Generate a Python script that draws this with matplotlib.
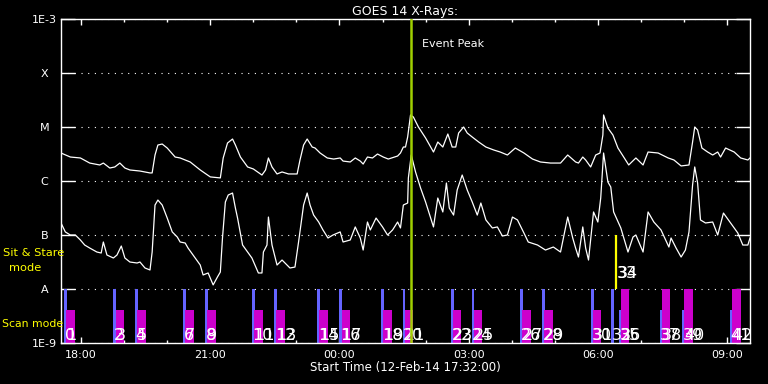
import datetime as dt

import matplotlib
matplotlib.use("Agg")
import matplotlib.dates as mdates
import matplotlib.pyplot as plt
from matplotlib.ticker import FixedLocator, NullLocator

start = dt.datetime(2014, 2, 12, 17, 32)
span_hours = 16

# GOES 14 long channel (1-8 A): minutes after start, flux in W/m^2
long_min = [0, 13, 27, 40, 54, 59, 68, 75, 82, 89, 96, 110, 124, 127, 131, 135,
            141, 148, 159, 166, 173, 180, 194, 208, 222, 226, 232, 239, 243, 250,
            260, 268, 280, 285, 289, 294, 301, 308, 317, 329, 333, 338, 343, 350,
            354, 361, 371, 380, 389, 393, 403, 410, 417, 421, 427, 434, 441, 449,
            456, 469, 473, 477, 480, 483, 487, 491, 498, 508, 519, 525, 532, 539,
            545, 550, 554, 561, 566, 573, 582, 592, 603, 612, 622, 633, 645, 657,
            668, 682, 696, 706, 717, 721, 727, 731, 738, 745, 751, 755, 756, 762,
            769, 776, 784, 791, 801, 811, 818, 832, 846, 854, 864, 875, 880, 883,
            887, 893, 901, 908, 915, 919, 926, 938, 947, 957, 960]
long_flux = [3.3e-6, 2.78e-6, 2.67e-6, 2.15e-6, 1.98e-6, 2.15e-6, 1.74e-6, 1.82e-6,
             2.15e-6, 1.74e-6, 1.6e-6, 1.53e-6, 1.41e-6, 1.41e-6, 3.03e-6, 4.64e-6,
             4.84e-6, 4.08e-6, 2.78e-6, 2.67e-6, 2.45e-6, 2.25e-6, 1.6e-6, 1.19e-6,
             1.14e-6, 2.67e-6, 5.05e-6, 5.99e-6, 4.64e-6, 2.78e-6, 1.82e-6, 1.67e-6,
             1.29e-6, 1.6e-6, 2.67e-6, 1.82e-6, 1.35e-6, 1.47e-6, 1.35e-6, 1.35e-6,
             2.45e-6, 4.64e-6, 5.99e-6, 4.26e-6, 4.08e-6, 3.3e-6, 2.67e-6, 2.55e-6,
             2.67e-6, 2.34e-6, 2.25e-6, 2.67e-6, 2.34e-6, 2.06e-6, 2.78e-6, 2.67e-6,
             3.16e-6, 2.78e-6, 2.55e-6, 2.9e-6, 3.3e-6, 4.26e-6, 4.26e-6, 6.52e-6,
             1.67e-5, 1.53e-5, 1.0e-5, 6.25e-6, 3.44e-6, 5.27e-6, 4.26e-6, 7.42e-6,
             4.26e-6, 4.26e-6, 7.74e-6, 1.0e-5, 7.74e-6, 6.52e-6, 5.27e-6, 4.26e-6,
             3.75e-6, 3.44e-6, 3.03e-6, 4.08e-6, 3.3e-6, 2.55e-6, 2.25e-6, 2.15e-6,
             2.15e-6, 3.03e-6, 2.25e-6, 2.15e-6, 2.78e-6, 2.45e-6, 1.82e-6, 3.03e-6,
             3.3e-6, 7.11e-6, 1.67e-5, 9.58e-6, 7.11e-6, 4.08e-6, 2.78e-6, 1.98e-6,
             2.67e-6, 1.98e-6, 3.44e-6, 3.3e-6, 2.67e-6, 2.45e-6, 1.9e-6, 1.98e-6,
             5.27e-6, 1.0e-5, 8.8e-6, 4.08e-6, 3.44e-6, 3.03e-6, 3.44e-6, 2.78e-6,
             4.08e-6, 3.44e-6, 2.67e-6, 2.45e-6, 2.67e-6]

# GOES 14 short channel (0.5-4 A)
short_min = [0, 6, 13, 20, 27, 33, 40, 50, 56, 59, 64, 73, 78, 84, 89, 96, 106,
             110, 117, 124, 127, 131, 135, 141, 148, 155, 162, 166, 173, 177, 184,
             194, 198, 205, 212, 218, 222, 225, 229, 233, 239, 243, 246, 253, 260,
             266, 275, 280, 282, 287, 289, 294, 301, 308, 315, 319, 326, 331, 338,
             343, 347, 352, 359, 365, 372, 379, 389, 393, 403, 410, 417, 421, 427,
             431, 439, 448, 455, 462, 469, 473, 477, 483, 484, 488, 494, 501, 508,
             515, 519, 525, 532, 537, 541, 547, 552, 559, 566, 573, 580, 585, 592,
             601, 608, 615, 622, 629, 636, 645, 651, 664, 675, 686, 696, 706, 713,
             717, 721, 727, 731, 735, 742, 748, 752, 756, 762, 766, 770, 780, 790,
             797, 801, 811, 818, 826, 836, 847, 850, 857, 864, 870, 875, 880, 883,
             887, 891, 898, 908, 915, 923, 933, 943, 950, 957, 960]
short_flux = [1.67e-7, 1.14e-7, 1.0e-7, 1.0e-7, 8.08e-8, 6.52e-8, 5.74e-8, 4.84e-8,
              4.64e-8, 7.42e-8, 4.26e-8, 3.75e-8, 4.26e-8, 6.25e-8, 3.75e-8, 3.16e-8,
              3.03e-8, 3.16e-8, 2.45e-8, 2.25e-8, 4.84e-8, 3.59e-7, 4.44e-7, 3.59e-7,
              2.06e-7, 1.14e-7, 9.18e-8, 7.42e-8, 7.11e-8, 5.74e-8, 4.26e-8, 2.78e-8,
              1.82e-8, 1.98e-8, 1.19e-8, 1.67e-8, 2.06e-8, 8.8e-8, 4.08e-7, 5.5e-7,
              5.99e-7, 3.16e-7, 2.06e-7, 6.52e-8, 4.84e-8, 3.75e-8, 1.98e-8, 1.98e-8,
              4.84e-8, 6.52e-8, 2.15e-7, 6.52e-8, 2.78e-8, 3.44e-8, 2.78e-8, 2.45e-8,
              2.55e-8, 7.42e-8, 3.59e-7, 5.99e-7, 3.59e-7, 2.34e-7, 1.74e-7, 1.24e-7,
              8.8e-8, 1.0e-7, 1.14e-7, 7.42e-8, 8.08e-8, 1.41e-7, 8.8e-8, 5.27e-8,
              1.74e-7, 1.24e-7, 2.06e-7, 1.41e-7, 1.0e-7, 1.24e-7, 1.74e-7, 1.35e-7,
              3.59e-7, 3.91e-7, 1.14e-6, 3.03e-6, 1.47e-6, 7.42e-7, 4.08e-7, 2.06e-7,
              1.41e-7, 4.84e-7, 2.67e-7, 9.18e-7, 3.16e-7, 2.34e-7, 6.81e-7, 1.29e-6,
              6.81e-7, 4.08e-7, 2.34e-7, 3.91e-7, 1.9e-7, 1.35e-7, 1.41e-7, 9.58e-8,
              1.0e-7, 2.15e-7, 1.9e-7, 1.09e-7, 7.42e-8, 6.52e-8, 5.27e-8, 5.99e-8,
              4.84e-8, 2.15e-7, 8.8e-8, 5.74e-8, 3.91e-8, 1.41e-7, 5.74e-8, 3.44e-8,
              2.67e-7, 1.74e-7, 4.84e-7, 3.3e-6, 9.58e-7, 7.74e-7, 2.67e-7, 1.35e-7,
              4.84e-8, 9.18e-8, 1.0e-7, 4.84e-8, 2.67e-7, 1.74e-7, 1.24e-7, 5.99e-8,
              8.8e-8, 5.74e-8, 3.91e-8, 5.27e-8, 1.14e-7, 8.43e-7, 1.82e-6, 9.18e-7,
              1.9e-7, 1.67e-7, 1.74e-7, 1.0e-7, 2.55e-7, 1.67e-7, 1.09e-7, 6.52e-8,
              6.52e-8, 8.8e-8]

# observations: start (minutes after start), bar tops, numbers written under them
obs_min = [4, 73, 103, 170, 201, 266, 297, 357, 388, 446, 476, 543, 572, 640,
           670, 738, 767, 777, 834, 865, 932]
obs_labels = [["0", "1"], ["2", "3"], ["4", "5"], ["6", "7"], ["8", "9"],
              ["10", "11"], ["12", "13"], ["14", "15"], ["16", "17"], ["18", "19"],
              ["20", "21"], ["22", "23"], ["24", "25"], ["26", "27"], ["28", "29"],
              ["30", "31"], ["32"], ["35", "36"], ["37", "38"], ["39", "40"],
              ["41", "42"]]
blue_top = [1e-8] * 17 + [4.1e-9] * 4
magenta_top = [4.1e-9] * 16 + [None] + [1e-8] * 4

peak_min = 488
mark_min = 773
mark_labels = ["33", "34"]

ytick_vals = [1e-9, 1e-8, 1e-7, 1e-6, 1e-5, 1e-4, 1e-3]
ytick_names = ["1E-9", "A", "B", "C", "M", "X", "1E-3"]

num_font = ["Liberation Sans Narrow", "DejaVu Sans"]


def to_time(minutes):
    return [start + dt.timedelta(minutes=m) for m in minutes]


fig = plt.figure(figsize=(7.68, 3.84), dpi=100, facecolor="black")
ax = fig.add_axes([61 / 768, 41 / 384, 689 / 768, 324 / 384], facecolor="black")

ax.set_yscale("log")
ax.set_ylim(1e-9, 1e-3)
ax.set_xlim(start, start + dt.timedelta(hours=span_hours))

ax.plot(to_time(long_min), long_flux, color="white", lw=0.9, zorder=3)
ax.plot(to_time(short_min), short_flux, color="white", lw=0.9, zorder=3)

blue_w = 4 / 1440
mag_w = 12 / 1440
for m, bt, mt, labs in zip(obs_min, blue_top, magenta_top, obs_labels):
    x0 = mdates.date2num(start + dt.timedelta(minutes=m))
    ax.bar(x0, bt - 1e-9, bottom=1e-9, width=blue_w, align="edge",
           color="#6464ff", zorder=2)
    if mt is not None:
        ax.bar(x0 + 3 / 1440, mt - 1e-9, bottom=1e-9, width=mag_w, align="edge",
               color="#cc00cc", zorder=2)
    for k, lab in enumerate(labs):
        ax.text(x0 + (1 + 2 * k) / 1440, 1.14e-9, lab, color="white",
                fontsize=11.5, family=num_font,
                ha="left", va="baseline", zorder=5)

t_peak = start + dt.timedelta(minutes=peak_min)
ax.axvline(t_peak, color="#a0d000", lw=1.8, zorder=6)
ax.text(start + dt.timedelta(minutes=peak_min + 15), 3.0e-4, "Event Peak",
        color="white", fontsize=8, ha="left", va="baseline")

t_mark = start + dt.timedelta(minutes=mark_min)
ax.vlines(t_mark, 1e-8, 1e-7, color="#ffff00", lw=1.6, zorder=6)
for k, lab in enumerate(mark_labels):
    ax.text(mdates.date2num(t_mark) + (1 + 2 * k) / 1440, 1.6e-8, lab,
            color="white", fontsize=11.5, family=num_font,
            ha="left", va="baseline", zorder=5)

# axes styling
for s in ax.spines.values():
    s.set_color("white")
    s.set_linewidth(1.0)

ax.yaxis.set_major_locator(FixedLocator(ytick_vals))
ax.yaxis.set_minor_locator(NullLocator())
ax.set_yticklabels(ytick_names)
ax.tick_params(axis="y", which="major", direction="in", length=10, width=1,
               colors="white", labelsize=8, pad=12, left=True, right=True)
for lbl in ax.get_yticklabels():
    lbl.set_horizontalalignment("center")
ax.yaxis.grid(True, color="white", linestyle=(0, (1, 5)), linewidth=0.8)

ax.xaxis.set_major_locator(mdates.HourLocator(byhour=range(0, 24, 3)))
ax.xaxis.set_minor_locator(mdates.HourLocator())
ax.xaxis.set_major_formatter(mdates.DateFormatter("%H:%M"))
ax.tick_params(axis="x", which="major", direction="in", length=4.5, width=1,
               colors="white", labelsize=8, pad=5, top=True)
ax.tick_params(axis="x", which="minor", direction="in", length=2.5, width=1,
               colors="white", top=True)

ax.set_title("GOES 14 X-Rays:", color="white", fontsize=9, pad=3)
ax.set_xlabel("Start Time (12-Feb-14 17:32:00)", color="white", fontsize=8.5,
              labelpad=1)

fig.text(34 / 768, 1 - 253 / 384, "Sit & Stare", color="#ffff00", fontsize=8.2,
         ha="center", va="center")
fig.text(25 / 768, 1 - 268 / 384, "mode", color="#ffff00", fontsize=8.2,
         ha="center", va="center")
fig.text(2 / 768, 1 - 324 / 384, "Scan mode", color="#ffff00", fontsize=7.8,
         ha="left", va="center")

fig.savefig("out.png", dpi=100, facecolor="black")
